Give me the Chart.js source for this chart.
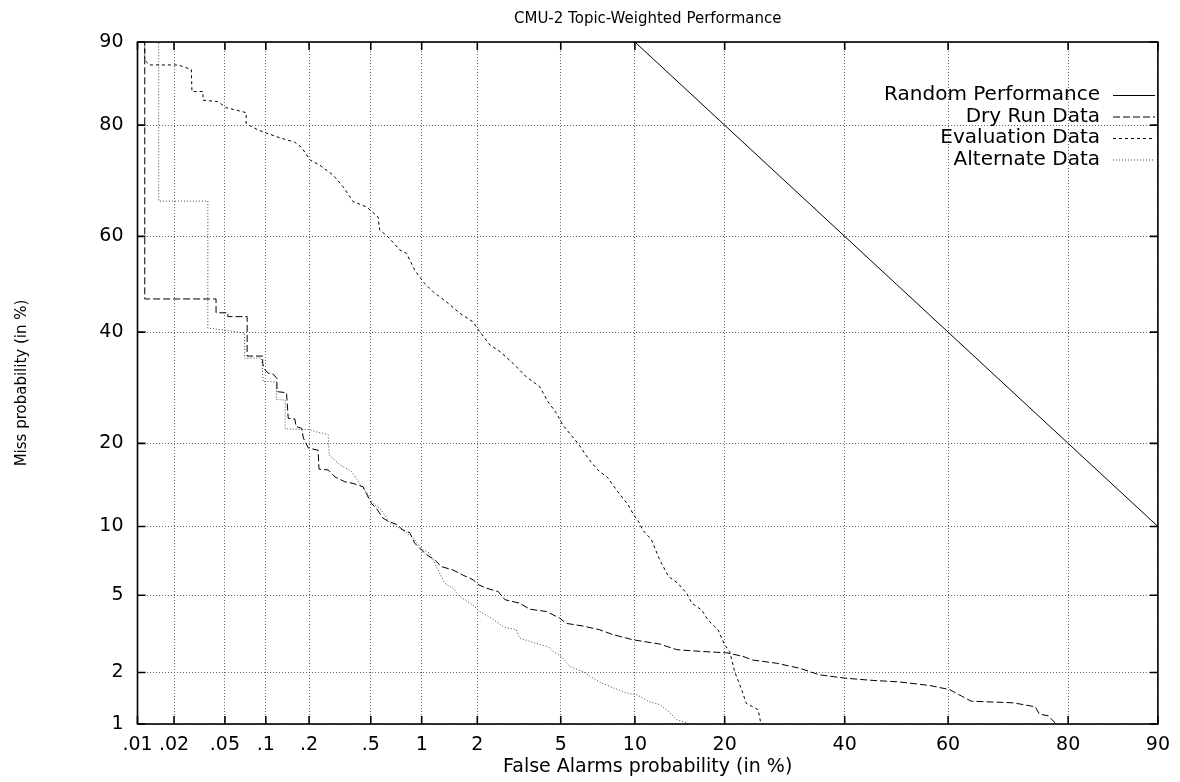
<!DOCTYPE html>
<html>
<head>
<meta charset="utf-8">
<title>CMU-2 Topic-Weighted Performance</title>
<script src="https://cdn.jsdelivr.net/npm/chart.js@4.4.1/dist/chart.umd.min.js"></script>
<style>
  html, body { margin: 0; padding: 0; background: #fff; }
  canvas { display: block; }
</style>
</head>
<body>
<canvas id="detChart" width="1180" height="782"></canvas>
<script>
const chartTitle = "CMU-2 Topic-Weighted Performance";

// tick values (in %) and their labels
const faTicks = [0.01, 0.02, 0.05, 0.1, 0.2, 0.5, 1, 2, 5, 10, 20, 40, 60, 80, 90];
const faTickLabels = [".01", ".02", ".05", ".1", ".2", ".5", "1", "2", "5", "10", "20", "40", "60", "80", "90"];
const missTicks = [1, 2, 5, 10, 20, 40, 60, 80, 90];
const missTickLabels = ["1", "2", "5", "10", "20", "40", "60", "80", "90"];

const seriesNames = ["Random Performance", "Dry Run Data", "Evaluation Data", "Alternate Data"];

// false alarm % / miss % pairs
const randomFA = [10, 90];
const randomMiss = [90, 10];

const dryRunFA = [0.0115, 0.0115, 0.0428, 0.0428, 0.0526, 0.0526, 0.0732, 0.0732, 0.095, 0.095,
  0.097, 0.104, 0.113, 0.120, 0.120, 0.140, 0.144, 0.160, 0.163, 0.178,
  0.183, 0.198, 0.230, 0.233, 0.268, 0.297, 0.344, 0.388, 0.448, 0.470,
  0.505, 0.541, 0.594, 0.637, 0.714, 0.782, 0.855, 0.912, 0.996, 1.086,
  1.18, 1.29, 1.49, 1.68, 1.90, 2.04, 2.23, 2.55, 2.75, 3.24,
  3.62, 4.32, 4.94, 5.29, 6.22, 7.29, 8.24, 9.84, 12.3, 14.1,
  17.2, 20.3, 22.6, 24.1, 27.8, 31.8, 35.3, 40.0, 44.8, 50.6,
  56.4, 60.3, 62.5, 64.3, 71.7, 75.2, 75.8, 77.2, 78.3, 78.8];
const dryRunMiss = [99.5, 46.9, 46.9, 44.0, 44.0, 43.2, 43.2, 35.2, 35.2, 33.8,
  32.8, 31.9, 31.7, 30.9, 28.5, 28.3, 23.9, 23.8, 22.6, 22.3,
  20.8, 19.3, 19.0, 16.4, 16.3, 15.4, 14.8, 14.6, 14.2, 13.4,
  12.3, 11.8, 10.8, 10.5, 10.2, 9.67, 9.44, 8.54, 7.99, 7.55,
  7.25, 6.76, 6.53, 6.20, 5.90, 5.58, 5.39, 5.20, 4.76, 4.58,
  4.28, 4.17, 3.87, 3.64, 3.53, 3.38, 3.19, 3.00, 2.85, 2.66,
  2.60, 2.56, 2.45, 2.34, 2.25, 2.11, 1.94, 1.86, 1.81, 1.77,
  1.69, 1.60, 1.47, 1.37, 1.34, 1.27, 1.15, 1.12, 1.00, 0.86];

const evalFA = [0.0115, 0.0115, 0.0126, 0.0216, 0.0275, 0.0278, 0.0339, 0.0339, 0.0441, 0.0511,
  0.0720, 0.0720, 0.0877, 0.101, 0.129, 0.159, 0.177, 0.204, 0.235, 0.289,
  0.335, 0.388, 0.470, 0.554, 0.567, 0.637, 0.747, 0.818, 0.912, 1.02,
  1.16, 1.37, 1.62, 1.90, 2.03, 2.32, 2.60, 3.01, 3.49, 4.02,
  4.39, 4.78, 5.11, 5.47, 5.93, 6.53, 7.16, 7.86, 8.62, 9.41,
  9.91, 10.3, 10.7, 11.5, 12.3, 13.2, 14.2, 15.2, 15.8, 17.0,
  17.8, 19.1, 19.6, 20.0, 20.7, 21.4, 22.4, 23.1, 24.9, 25.3, 25.4];
const evalMiss = [99.5, 88.2, 87.7, 87.7, 87.2, 84.6, 84.6, 83.5, 83.3, 82.5,
  81.8, 80.2, 79.3, 78.8, 78.0, 77.4, 76.6, 74.4, 73.6, 71.8,
  69.7, 66.9, 65.9, 63.9, 61.3, 59.9, 57.2, 56.5, 53.0, 50.5,
  48.4, 46.3, 43.9, 42.1, 40.4, 37.4, 36.1, 33.8, 31.2, 29.4,
  26.7, 24.8, 22.8, 21.5, 20.0, 17.9, 16.3, 15.3, 13.6, 12.2,
  11.1, 10.5, 9.67, 8.83, 7.25, 6.11, 5.69, 5.11, 4.58, 4.24,
  3.78, 3.38, 3.06, 2.82, 2.60, 2.02, 1.60, 1.33, 1.22, 1.02, 0.86];

const altFA = [0.0150, 0.0150, 0.0370, 0.0370, 0.0511, 0.0702, 0.0702, 0.0933, 0.0958, 0.119,
  0.119, 0.137, 0.137, 0.202, 0.219, 0.268, 0.272, 0.319, 0.379, 0.427,
  0.481, 0.516, 0.567, 0.609, 0.652, 0.714, 0.782, 0.892, 1.02, 1.11,
  1.21, 1.34, 1.49, 1.62, 1.90, 2.06, 2.36, 2.70, 3.13, 3.24,
  3.88, 4.39, 4.62, 5.03, 5.47, 6.22, 6.85, 7.41, 8.24, 9.31,
  10.2, 11.3, 12.3, 13.2, 14.1, 15.2, 15.6];
const altMiss = [99.5, 67.0, 67.0, 40.8, 40.4, 39.8, 34.8, 34.8, 30.3, 30.3,
  27.1, 27.0, 22.2, 22.1, 21.8, 21.3, 18.3, 17.0, 16.1, 14.6,
  13.3, 12.3, 11.8, 11.1, 10.3, 10.0, 9.67, 8.97, 7.99, 7.74,
  6.76, 5.69, 5.39, 4.93, 4.48, 4.17, 3.87, 3.50, 3.38, 3.06,
  2.87, 2.76, 2.60, 2.45, 2.16, 2.02, 1.86, 1.75, 1.64, 1.53,
  1.49, 1.36, 1.31, 1.19, 1.06, 1.02, 0.93];

// inverse of the normal CDF (Acklam)
function probit(p) {
  const a = [-39.69683028665376, 220.9460984245205, -275.9285104469687, 138.357751867269, -30.66479806614716, 2.506628277459239];
  const b = [-54.47609879822406, 161.5858368580409, -155.6989798598866, 66.80131188771972, -13.28068155288572];
  const c = [-0.007784894002430293, -0.3223964580411365, -2.400758277161838, -2.549732539343734, 4.374664141464968, 2.938163982698783];
  const d = [0.007784695709041462, 0.3224671290700398, 2.445134137142996, 3.754408661907416];
  const lo = 0.02425;
  if (p <= 0) return -8;
  if (p >= 1) return 8;
  if (p < lo) {
    const q = Math.sqrt(-2 * Math.log(p));
    return (((((c[0] * q + c[1]) * q + c[2]) * q + c[3]) * q + c[4]) * q + c[5]) / ((((d[0] * q + d[1]) * q + d[2]) * q + d[3]) * q + 1);
  }
  if (p > 1 - lo) {
    const q = Math.sqrt(-2 * Math.log(1 - p));
    return -(((((c[0] * q + c[1]) * q + c[2]) * q + c[3]) * q + c[4]) * q + c[5]) / ((((d[0] * q + d[1]) * q + d[2]) * q + d[3]) * q + 1);
  }
  const q = p - 0.5, r = q * q;
  return (((((a[0] * r + a[1]) * r + a[2]) * r + a[3]) * r + a[4]) * r + a[5]) * q / (((((b[0] * r + b[1]) * r + b[2]) * r + b[3]) * r + b[4]) * r + 1);
}

function normCdf(z) {
  const t = 1 / (1 + 0.3275911 * Math.abs(z) / Math.SQRT2);
  const y = 1 - (((((1.061405429 * t - 1.453152027) * t) + 1.421413741) * t - 0.284496736) * t + 0.254829592) * t * Math.exp(-z * z / 2);
  return z >= 0 ? (1 + y) / 2 : (1 - y) / 2;
}

// normal deviate scale, values given in percent
class ProbitScale extends Chart.Scale {
  static id = "probit";
  static defaults = {};

  determineDataLimits() {
    this.min = this.options.min;
    this.max = this.options.max;
  }
  buildTicks() {
    return [];
  }
  configure() {
    super.configure();
    this._zMin = probit(this.min / 100);
    this._zMax = probit(this.max / 100);
  }
  getLabelForValue(value) {
    return String(value);
  }
  getPixelForValue(value) {
    return this.getPixelForDecimal((probit(value / 100) - this._zMin) / (this._zMax - this._zMin));
  }
  getValueForPixel(pixel) {
    const z = this._zMin + this.getDecimalForPixel(pixel) * (this._zMax - this._zMin);
    return normCdf(z) * 100;
  }
}
Chart.register(ProbitScale);

const pts = (xs, ys) => xs.map((x, i) => ({ x: x, y: ys[i] }));

// frame with inward tick marks, title and legend like the gnuplot original
const detFrame = {
  id: "detFrame",
  afterDraw(chart) {
    const { ctx, chartArea: a, scales } = chart;
    ctx.save();
    ctx.strokeStyle = "#000";
    ctx.lineWidth = 1.6;
    ctx.strokeRect(a.left, a.top, a.right - a.left, a.bottom - a.top);
    ctx.beginPath();
    scales.x.ticks.forEach(t => {
      const px = scales.x.getPixelForValue(t.value);
      ctx.moveTo(px, a.bottom); ctx.lineTo(px, a.bottom - 8);
      ctx.moveTo(px, a.top); ctx.lineTo(px, a.top + 8);
    });
    scales.y.ticks.forEach(t => {
      const py = scales.y.getPixelForValue(t.value);
      ctx.moveTo(a.left, py); ctx.lineTo(a.left + 8, py);
      ctx.moveTo(a.right, py); ctx.lineTo(a.right - 8, py);
    });
    ctx.stroke();

    ctx.fillStyle = "#000";
    ctx.font = '15px "DejaVu Sans"';
    ctx.textAlign = "center";
    ctx.textBaseline = "middle";
    ctx.fillText(chartTitle, (a.left + a.right) / 2, 19);

    ctx.font = '20px "DejaVu Sans"';
    ctx.textAlign = "right";
    chart.data.datasets.forEach((ds, i) => {
      const y = 95 + i * 21.5;
      ctx.fillStyle = "#000";
      ctx.fillText(ds.label, 1100, y);
      ctx.beginPath();
      ctx.setLineDash(ds.borderDash || []);
      ctx.strokeStyle = ds.borderColor;
      ctx.lineWidth = 1;
      ctx.moveTo(1113, y + 0.5);
      ctx.lineTo(1155, y + 0.5);
      ctx.stroke();
    });
    ctx.restore();
  }
};

Chart.defaults.font.family = '"DejaVu Sans", sans-serif';
Chart.defaults.color = "#000";

new Chart(document.getElementById("detChart"), {
  type: "line",
  data: {
    datasets: [{
      label: seriesNames[0],
      data: pts(randomFA, randomMiss),
      borderColor: "#000",
      borderDash: []
    }, {
      label: seriesNames[1],
      data: pts(dryRunFA, dryRunMiss),
      borderColor: "#000",
      borderDash: [7, 3]
    }, {
      label: seriesNames[2],
      data: pts(evalFA, evalMiss),
      borderColor: "#000",
      borderDash: [3, 3]
    }, {
      label: seriesNames[3],
      data: pts(altFA, altMiss),
      borderColor: "#444",
      borderDash: [1, 2]
    }]
  },
  options: {
    responsive: false,
    animation: false,
    devicePixelRatio: 1,
    layout: { padding: { top: 42, right: 21, bottom: 0, left: 0 } },
    elements: {
      point: { radius: 0 },
      line: { borderWidth: 1, tension: 0, fill: false }
    },
    plugins: {
      legend: { display: false },
      title: { display: false },
      tooltip: { enabled: false }
    },
    scales: {
      x: {
        type: "probit",
        position: "bottom",
        min: 0.01,
        max: 90,
        afterBuildTicks: s => { s.ticks = faTicks.map(v => ({ value: v })); },
        afterFit: s => { s.height = 58; },
        grid: { color: "#666", lineWidth: 1, drawTicks: false },
        border: { display: false, dash: [1, 2] },
        ticks: {
          autoSkip: false,
          maxRotation: 0,
          padding: 10,
          font: { size: 19 },
          callback: (v, i) => faTickLabels[i]
        },
        title: {
          display: true,
          text: "False Alarms probability (in %)",
          font: { size: 19 },
          padding: { top: 0, bottom: 4 }
        }
      },
      y: {
        type: "probit",
        position: "left",
        min: 1,
        max: 90,
        afterBuildTicks: s => { s.ticks = missTicks.map(v => ({ value: v })); },
        afterFit: s => { s.width = 137.5; },
        grid: { color: "#666", lineWidth: 1, drawTicks: false },
        border: { display: false, dash: [1, 2] },
        ticks: {
          autoSkip: false,
          padding: 14,
          font: { size: 19 },
          callback: (v, i) => missTickLabels[i]
        },
        title: {
          display: true,
          text: "Miss probability (in %)",
          font: { size: 15 },
          padding: { top: 13, bottom: 0 }
        }
      }
    }
  },
  plugins: [detFrame]
});
</script>
</body>
</html>
